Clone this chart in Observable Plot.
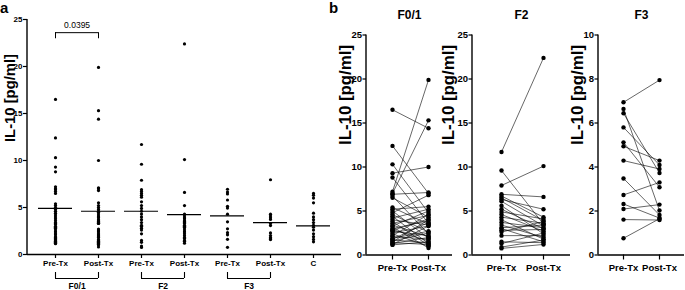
<!DOCTYPE html>
<html><head><meta charset="utf-8">
<script src="https://cdn.jsdelivr.net/npm/d3@7"></script>
<script src="https://cdn.jsdelivr.net/npm/@observablehq/plot@0.6"></script>
<style>
body{margin:0;background:#fff;}
#root{position:relative;width:685px;height:290px;overflow:hidden;background:#fff;}
.panel{position:absolute;top:0;}
.panel svg{overflow:visible;background:transparent;}
.panel svg text{font-family:"Liberation Sans",Arial,sans-serif;}
.letter{position:absolute;font:bold 15px "Liberation Sans",Arial,sans-serif;line-height:16px;color:#000;}
</style></head><body><div id="root"></div>
<script>
// ---------- data ----------
const groups = ["F0/1", "F2", "F3"];
const timepoints = ["Pre-Tx", "Post-Tx"];
const controlLabel = "C";
const yTitle = "IL-10 [pg/ml]";

// paired values (same index = same patient)
const f01Pre  = [16.5, 12.4, 10.3, 9.3, 8.8, 7.2, 7.0, 6.9, 6.7, 6.5, 5.4, 5.2, 5.0, 4.8, 4.6, 4.4, 4.2, 4.0, 3.8, 3.6, 3.4, 3.3, 3.2, 3.0, 2.9, 2.8, 2.7, 2.5, 2.4, 2.2, 2.1, 1.9, 1.8, 1.7, 1.6, 1.5, 1.4, 1.3, 1.2, 1.15];
const f01Post = [14.4, 7.0, 4.8, 10.0, 3.6, 19.9, 15.3, 7.1, 2.4, 4.3, 3.5, 5.5, 1.9, 6.8, 2.6, 1.3, 5.2, 3.4, 1.1, 4.5, 2.1, 5.0, 0.8, 3.9, 1.6, 4.1, 2.2, 3.3, 1.0, 4.6, 1.8, 2.7, 3.7, 1.4, 2.5, 4.0, 1.2, 2.0, 3.3, 1.5];
const f2Pre   = [11.7, 9.6, 7.9, 6.9, 6.7, 6.5, 6.3, 6.1, 5.6, 5.2, 4.9, 4.6, 4.3, 4.0, 3.7, 3.4, 3.1, 3.0, 2.8, 2.6, 2.2, 1.5, 1.3, 0.9, 0.75];
const f2Post  = [22.4, 3.5, 10.1, 6.6, 4.3, 3.9, 5.2, 3.3, 2.4, 3.0, 4.1, 2.7, 3.6, 1.8, 3.1, 2.0, 3.4, 1.5, 2.9, 3.8, 2.2, 1.4, 2.5, 1.7, 1.2];
const f3Pre   = [6.94, 6.64, 6.44, 5.8, 5.12, 4.94, 4.29, 3.48, 2.73, 2.32, 2.09, 1.61, 0.76];
const f3Post  = [7.95, 2.02, 3.73, 4.09, 3.08, 4.29, 3.91, 1.82, 3.3, 1.68, 2.29, 1.59, 1.65];
const controlValues = [6.5, 6.3, 6.0, 5.5, 4.4, 4.0, 3.7, 3.4, 3.1, 2.9, 2.6, 2.2, 1.9, 1.6, 1.35];

// horizontal centre lines in panel a (in category order)
const centerLines = [4.9, 4.6, 4.6, 4.25, 4.1, 3.4, 3.05];

// significance annotation
const pValueLabel = "0.0395";
const pValueLevel = 23.6;

// ticks
const yTicksA = [0, 5, 10, 15, 20, 25];
const yTicksB = [[0, 5, 10, 15, 20, 25], [0, 5, 10, 15, 20, 25], [0, 2, 4, 6, 8, 10]];
const yMaxB = [25, 25, 10];

// ---------- build ----------
const series = [[f01Pre, f01Post], [f2Pre, f2Post], [f3Pre, f3Post]];

const catKeys = [];
groups.forEach(g => timepoints.forEach(t => catKeys.push(g + "|" + t)));
catKeys.push(controlLabel);

const ptsA = [];
series.forEach((pair, gi) => pair.forEach((vals, ti) =>
  vals.forEach(v => ptsA.push({cat: groups[gi] + "|" + timepoints[ti], v}))));
controlValues.forEach(v => ptsA.push({cat: controlLabel, v}));
const linesA = catKeys.map((c, i) => ({cat: c, v: centerLines[i]}));
const bracketRows = groups.map(g => ({g, pre: g + "|" + timepoints[0], post: g + "|" + timepoints[1]}));
const bracketLegs = bracketRows.flatMap(r => [r.pre, r.post]);
const pRow = {from: groups[0] + "|" + timepoints[0], to: groups[0] + "|" + timepoints[1], text: pValueLabel, level: pValueLevel};

function yAxisLine(sw) {
  return (index, scales, values, dims) =>
    d3.create("svg:line")
      .attr("x1", dims.marginLeft).attr("x2", dims.marginLeft)
      .attr("y1", dims.marginTop).attr("y2", dims.height - dims.marginBottom)
      .attr("stroke", "black").attr("stroke-width", sw).node();
}

const root = document.getElementById("root");
function addPanel(left, width, svg, titleLength) {
  svg.querySelectorAll("text").forEach(t => {
    if (t.textContent === yTitle) {
      t.setAttribute("textLength", titleLength);
      t.setAttribute("lengthAdjust", "spacingAndGlyphs");
    }
  });
  const d = document.createElement("div");
  d.className = "panel";
  d.style.left = left + "px";
  d.style.width = width + "px";
  d.appendChild(svg);
  root.appendChild(d);
}
function addLetter(txt, left, top) {
  const d = document.createElement("div");
  d.className = "letter";
  d.textContent = txt;
  d.style.left = left + "px";
  d.style.top = top + "px";
  root.appendChild(d);
}

// ----- panel a -----
const aStep = 43.2, aBand = 34, aFirst = 54;
const plotA = Plot.plot({
  width: 345, height: 290,
  marginLeft: 27, marginRight: 4, marginTop: 19, marginBottom: 36,
  style: {fontSize: "8px", color: "black", background: "transparent", overflow: "visible"},
  x: {type: "band", domain: catKeys, range: [aFirst - aBand / 2, aFirst - aBand / 2 + aStep * 6 + aBand],
      paddingInner: 1 - aBand / aStep, paddingOuter: 0, axis: null},
  y: {domain: [0, 25], axis: null},
  marks: [
    Plot.axisY({ticks: yTicksA, tickSize: 4, tickPadding: 1, fontWeight: "bold", fontSize: 8, strokeWidth: 1.2, label: null}),
    Plot.axisX({tickSize: 4, tickPadding: 2, tickFormat: d => d.split("|").pop(), fontWeight: "bold", fontSize: 8, strokeWidth: 1.2, label: null}),
    Plot.ruleY([0], {strokeWidth: 1.4}),
    yAxisLine(1.4),
    Plot.dot(ptsA, {x: "cat", y: "v", r: 1.6, fill: "black"}),
    Plot.tickY(linesA, {x: "cat", y: "v", strokeWidth: 1.2}),
    // significance bracket
    Plot.ruleY([pRow], {x1: "from", x2: "to", y: "level", insetLeft: aBand / 2, insetRight: aBand / 2, strokeWidth: 1}),
    Plot.ruleX([pRow.from, pRow.to], {x: d => d, y1: pRow.level, y2: pRow.level - 0.65, strokeWidth: 1}),
    Plot.text([pRow], {x: "from", y: "level", text: "text", dx: aStep / 2, dy: -7, fontSize: 8.5}),
    // group brackets under the axis
    Plot.ruleY(bracketRows, {x1: "pre", x2: "post", y: 0, dy: 24, insetLeft: aBand / 2, insetRight: aBand / 2, strokeWidth: 1.1}),
    Plot.ruleX(bracketLegs, {x: d => d, y1: 0, y2: 0, insetTop: -6, dy: 24, strokeWidth: 1.1}),
    Plot.text(bracketRows, {x: "pre", y: 0, text: "g", dx: aStep / 2, dy: 31.5, fontWeight: "bold", fontSize: 8.5}),
    // y title
    Plot.text([yTitle], {frameAnchor: "left", rotate: -90, dx: -17, dy: 5, fontSize: 14, fontWeight: "bold"})
  ]
});
addPanel(0, 345, plotA, 88);

// ----- panel b -----
const bCfg = [
  {left: 325, width: 130, ml: 41, mr: 3, xr: [67, 103], tdx: -21},
  {left: 435, width: 140, ml: 37, mr: 5, xr: [66, 108], tdx: -24},
  {left: 560, width: 125, ml: 38, mr: 1, xr: [63, 99], tdx: -21}
];
bCfg.forEach((cfg, gi) => {
  const [pre, post] = series[gi];
  const long = pre.flatMap((v, i) => [{id: i, t: timepoints[0], v}, {id: i, t: timepoints[1], v: post[i]}]);
  const p = Plot.plot({
    width: cfg.width, height: 290,
    marginLeft: cfg.ml, marginRight: cfg.mr, marginTop: 34.5, marginBottom: 35.5,
    style: {fontSize: "10px", color: "black", background: "transparent", overflow: "visible"},
    x: {type: "point", domain: timepoints, range: cfg.xr, padding: 0, axis: null},
    y: {domain: [0, yMaxB[gi]], axis: null},
    marks: [
      Plot.axisY({ticks: yTicksB[gi], tickSize: 3.5, tickPadding: 1, fontWeight: "bold", fontSize: 9.5, strokeWidth: 1.2, label: null}),
      Plot.axisX({tickSize: 5, tickPadding: 4, fontWeight: "bold", fontSize: 9.5, strokeWidth: 1.2, label: null}),
      Plot.ruleY([0], {strokeWidth: 1.4}),
      yAxisLine(1.4),
      Plot.line(long, {x: "t", y: "v", z: "id", stroke: "black", strokeWidth: 0.6}),
      Plot.dot(long, {x: "t", y: "v", r: 2.2, fill: "black"}),
      Plot.text([groups[gi]], {frameAnchor: "top", dy: -24.5, fontSize: 12, fontWeight: "bold"}),
      Plot.text([yTitle], {frameAnchor: "left", rotate: -90, dx: cfg.tdx, fontSize: 16, fontWeight: "bold"})
    ]
  });
  addPanel(cfg.left, cfg.width, p, 100);
});

addLetter("a", 0, 0);
addLetter("b", 329, 0);
</script>
</body></html>
